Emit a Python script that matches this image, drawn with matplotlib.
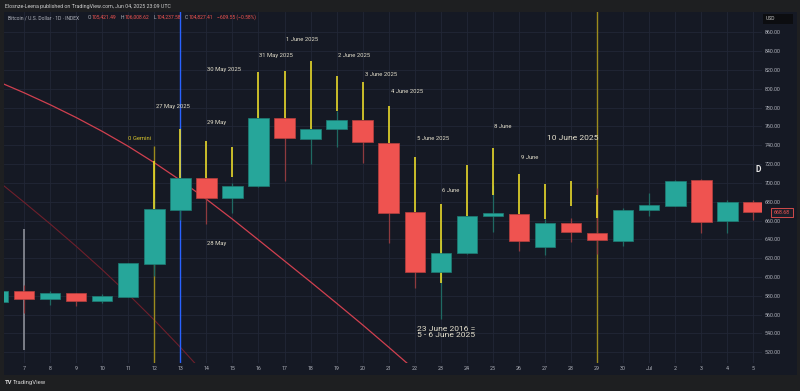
import matplotlib
matplotlib.use("Agg")
import matplotlib.pyplot as plt
from matplotlib.patches import Rectangle

plt.rcParams['font.family'] = ['Roboto', 'DejaVu Sans']

# ---------------- data ----------------
day_labels = ["7", "8", "9", "10", "11", "12", "13", "14", "15", "16", "17", "18", "19", "20",
              "21", "22", "23", "24", "25", "26", "27", "28", "29", "30", "Jul", "2", "3", "4", "5"]
tick_days = list(range(len(day_labels)))

candle_day = list(range(-1, 29))
opens = [573.4, 585.1, 576.3, 582.6, 574.8, 579.0, 613.8, 671.2, 705.5, 683.6, 697.0, 769.2, 747.0, 757.2,
         766.8, 742.7, 668.7, 605.0, 625.1, 665.1, 667.2, 631.5, 657.0, 646.7, 638.2, 671.2, 675.7, 702.7,
         659.2, 679.3]
highs = [586.0, 591.5, 585.1, 582.8, 581.9, 615.0, 684.0, 706.0, 706.0, 699.5, 779.0, 770.0, 758.0, 776.7,
         767.0, 743.0, 669.0, 639.3, 666.0, 697.7, 668.0, 661.6, 662.3, 694.2, 673.6, 689.6, 703.4, 704.1,
         682.1, 681.5]
lows = [572.0, 561.4, 570.2, 569.1, 572.0, 578.5, 601.0, 660.5, 656.3, 667.7, 696.0, 702.3, 720.0, 738.4,
        720.8, 635.7, 588.6, 555.3, 624.5, 647.5, 627.6, 623.3, 637.4, 624.4, 633.2, 664.8, 675.2, 646.4,
        647.0, 660.5]
closes = [585.1, 576.3, 582.6, 574.8, 579.4, 614.5, 671.9, 705.5, 683.6, 696.7, 769.2, 747.4, 757.6, 766.8,
          743.1, 667.7, 605.0, 625.5, 665.1, 667.7, 638.5, 657.0, 647.5, 639.3, 671.5, 676.2, 702.3, 658.0,
          679.3, 668.68]

# yellow overlay segments (2025 fractal wicks)
yellow_day = [5, 6, 7, 8, 9, 10, 11, 12, 13, 14, 15, 16, 17, 18, 19, 20, 21, 22]
yellow_top = [723.6, 757.6, 744.8, 738.1, 818.1, 819.2, 829.2, 813.9, 806.9, 781.7, 727.2, 677.6, 718.6,
              737.0, 709.4, 698.5, 701.7, 687.1]
yellow_bot = [671.9, 705.5, 705.5, 705.9, 769.2, 769.2, 757.6, 776.7, 766.8, 742.7, 668.7, 593.9, 665.1,
              687.1, 667.2, 661.6, 675.7, 663.0]

# curved indicator lines
curve1_day = list(range(-1, 16))
curve1_val = [807.7, 795.8, 783.1, 769.5, 754.8, 738.9, 721.5, 702.8, 682.7, 661.5, 639.4, 617.1, 594.8,
              572.1, 549.1, 525.4, 501.3]
curve2_day = list(range(-1, 8))
curve2_val = [702.0, 679.5, 656.5, 632.7, 607.8, 581.7, 554.3, 525.4, 495.0]

# vertical marker lines
blue_day = 6
olive_day = 22
olive2_day, olive2_top = 5, 739.0
gray_day, gray_lo, gray_hi = 0, 522.4, 650.6

# annotations
small_notes = ["0 Gemini", "27 May 2025", "29 May", "30 May 2025", "31 May 2025", "1 June 2025",
               "2 June 2025", "3 June 2025", "4 June 2025", "5 June 2025", "6 June", "8 June", "9 June",
               "28 May"]
small_x = [4.45, 5.70, 7.41, 7.68, 9.67, 10.69, 12.67, 13.70, 14.70, 15.69, 16.39, 18.39, 19.40, 7.41]
small_y = [747.7, 781.7, 764.7, 821.0, 835.9, 852.9, 835.9, 815.7, 796.6, 747.7, 691.4, 759.4, 727.5, 636.1]
big_note, big_x, big_y = "10 June 2025", 21.06, 747.7
fractal_note, fractal_x, fractal_y = "23 June 2016 =\n5 - 6 June 2025", 15.07, 541.6

price_ticks = list(range(520, 861, 20))
last_price = 668.68

# ---------------- styling ----------------
FIG_BG = '#1e1f21'
PANEL = '#151924'
GRID = '#222736'
UP, DN = '#26a69a', '#ef5350'
UP_EDGE, DN_EDGE = '#1d7e75', '#b8403e'
UP_WICK, DN_WICK = '#1f6963', '#8e3a3f'
YELLOW = '#e8d92a'
OLIVE = '#9c8b1d'
TXT = '#b2b5be'
NOTE = '#e4dfcc'

W, H = 800, 391
fig = plt.figure(figsize=(W / 100, H / 100), dpi=100, facecolor=FIG_BG)


def fx(x):
    return x / W


def fy(y):
    return 1 - y / H


# chart panel background (plot + scales)
fig.patches.append(Rectangle((fx(4), fy(375)), (797 - 4) / W, (375 - 12) / H,
                             transform=fig.transFigure, facecolor=PANEL, edgecolor='none', zorder=-5))

ax = fig.add_axes([fx(4), fy(363), (762 - 4) / W, (363 - 12) / H])
ax.set_zorder(1)
ax.set_facecolor(PANEL)
ax.set_xlim(-0.768, 28.33)
ax.set_ylim(508.6, 881.6)
for s in ax.spines.values():
    s.set_visible(False)

ax.set_xticks(tick_days)
ax.set_xticklabels(day_labels)
ax.set_yticks(price_ticks)
ax.set_yticklabels([f"{v:.2f}" for v in price_ticks])
ax.yaxis.tick_right()
ax.tick_params(axis='both', length=0, colors=TXT, labelsize=3.8)
ax.tick_params(axis='x', pad=2.4)
ax.tick_params(axis='y', pad=2.2)
ax.grid(True, color=GRID, lw=0.6, zorder=0)
ax.set_axisbelow(True)

# curves
ax.plot(curve1_day, curve1_val, color='#d0404f', lw=0.9, zorder=1, solid_joinstyle='round')
ax.plot(curve2_day, curve2_val, color='#6e1f2b', lw=0.8, zorder=1, solid_joinstyle='round')

# vertical marker lines
ax.axvline(blue_day, color='#2962ff', lw=1.0, zorder=1.5)
ax.axvline(olive_day, color=OLIVE, lw=1.0, zorder=1.5)
ax.vlines(olive2_day, 508.6, olive2_top, color=OLIVE, lw=1.0, zorder=1.5)
ax.vlines(gray_day, gray_lo, gray_hi, color='#9598a1', lw=1.1, zorder=1.5)

# candles
up = [c >= o for o, c in zip(opens, closes)]
ax.vlines(candle_day, lows, highs, colors=[UP_WICK if u else DN_WICK for u in up], lw=0.9, zorder=2)
ax.vlines(yellow_day, yellow_bot, yellow_top, colors=YELLOW, lw=1.2, zorder=2.5)
ax.bar(candle_day, [abs(c - o) for o, c in zip(opens, closes)],
       bottom=[min(o, c) for o, c in zip(opens, closes)], width=0.787,
       color=[UP if u else DN for u in up], edgecolor=[UP_EDGE if u else DN_EDGE for u in up],
       linewidth=0.5, zorder=3)

# annotations
for t, x, y in zip(small_notes, small_x, small_y):
    col = '#d8c52c' if 'Gemini' in t else NOTE
    ax.text(x, y, t, color=col, fontsize=4.2, ha='center', va='center', zorder=4)
ax.text(big_x, big_y, big_note, color=NOTE, fontsize=6.1, ha='center', va='center', zorder=4)
ax.text(fractal_x, fractal_y, fractal_note, color=NOTE, fontsize=6.1, ha='left', va='center',
        linespacing=0.95, zorder=4)

# "D" marker
fig.text(fx(758), fy(170), "D", color='#e8e8e8', fontsize=6.2, fontweight='bold', ha='center', va='center',
         zorder=6)

# last price tag
fig.patches.append(Rectangle((fx(771), fy(217)), 22 / W, 9.5 / H, transform=fig.transFigure,
                             facecolor='#1b1e29', edgecolor=DN, lw=0.6, zorder=5))
fig.text(fx(782), fy(212.3), f"{last_price:.2f}", color=DN, fontsize=3.8, ha='center', va='center', zorder=6)

# USD box
fig.patches.append(Rectangle((fx(763), fy(24)), 30 / W, 10 / H, transform=fig.transFigure,
                             facecolor='#0c0d10', edgecolor='none', zorder=5))
fig.text(fx(766), fy(19), "USD", color='#c8c8c8', fontsize=3.6, ha='left', va='center', zorder=6)

# header
fig.text(fx(5), fy(6.5), "Elosnze-Leena published on TradingView.com, Jun 04, 2025 23:09 UTC",
         color='#d0d0d0', fontsize=3.8, ha='left', va='center')

legend_parts = [("Bitcoin / U.S. Dollar · 1D · INDEX", TXT, 7.5),
                ("O", TXT, 87.5), ("105,421.49", DN, 91.5),
                ("H", TXT, 120.5), ("106,008.62", DN, 124.5),
                ("L", TXT, 153.5), ("104,237.58", DN, 156.8),
                ("C", TXT, 185), ("104,827.41", DN, 189),
                ("−609.55 (−0.58%)", DN, 217)]
for t, c, x in legend_parts:
    fig.text(fx(x), fy(17.5), t, color=c, fontsize=3.6, ha='left', va='center', zorder=6)

# footer logo
fig.text(fx(5), fy(382.5), "TV", color='#d8d8d8', fontsize=4.2, fontweight='bold', ha='left', va='center')
fig.text(fx(13), fy(382.5), "TradingView", color='#d8d8d8', fontsize=4.3, ha='left', va='center')

fig.savefig("out.png", dpi=100, facecolor=FIG_BG)
